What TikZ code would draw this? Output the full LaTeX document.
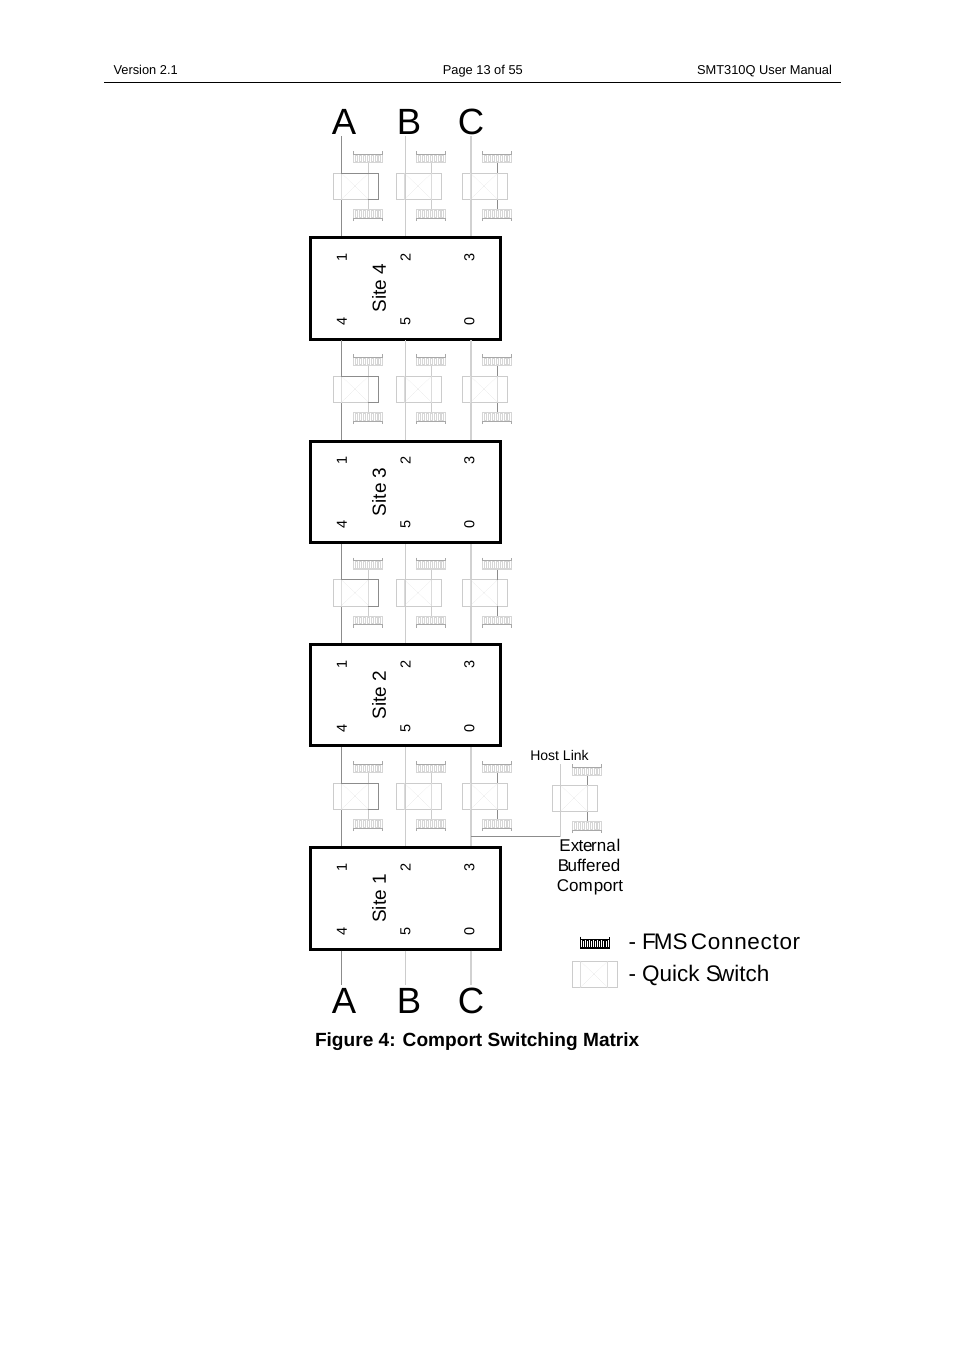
\documentclass[tikz,border=0pt]{standalone}
\usepackage{fontspec}
\setmainfont{Liberation Sans}
\newcommand{\fsz}[1]{\fontsize{#1}{#1}\selectfont}
\definecolor{gA}{gray}{0.55}
\definecolor{gB}{gray}{0.80}
\definecolor{gC}{gray}{0.82}
\definecolor{gS}{gray}{0.80}
\definecolor{gP}{gray}{0.66}
\definecolor{gL}{gray}{0.84}
\tikzset{
  txt/.style={inner sep=0pt,outer sep=0pt,anchor=base,text=black},
  rtxt/.style={inner sep=0pt,outer sep=0pt,anchor=center,text=black,rotate=90},
  sitebox/.style={draw=black,line width=3pt,minimum width=190.5pt,minimum height=101.5pt,inner sep=0pt,outer sep=0pt}
}
\newcommand{\fmsc}[5]{% x, y(centre), vertical flip (1 top / -1 bottom), dark colour, light colour
  \begin{scope}[shift={(#1,#2)},yscale=#3]
    \draw[#5,line width=1pt] (-14.7,-3) -- (-14.7,6) (14.7,-3) -- (14.7,6);
    \draw[#5,line width=1.2pt] (-14.7,5.4) -- (14.7,5.4);
    \foreach \k in {0,...,6}{
      \draw[#5,line width=0.7pt] ({-12.4+\k*3.85},-2) rectangle ({-10.4+\k*3.85},4.5);
    }
    \draw[#4,line width=0.8pt] (-14.7,-6) -- (-14.7,-3) -- (14.7,-3) -- (14.7,-6);
  \end{scope}
}
\newcommand{\qswitch}[3]{% left x, top y, colour
  \begin{scope}[shift={(#1,#2)}]
    \draw[#3,line width=0.6pt] (0,0) rectangle (45,26.5);
    \draw[#3!70!white,line width=0.4pt,densely dotted] (8,0) -- (36,26.5) (36,0) -- (8,26.5);
    \draw[#3!70!white,line width=0.4pt] (8,0) -- (8,26.5) (35.5,0) -- (35.5,26.5);
  \end{scope}
}
\newcommand{\qunit}[3]{% box left x, row offset, stem colour
  \qswitch{#1}{173+#2}{gS}
  \fmsc{#1+35}{157+#2}{1}{gP}{gL}
  \fmsc{#1+35}{215+#2}{-1}{gP}{gL}
  \draw[#3,line width=0.7pt] (#1+35,163+#2) -- (#1+35,173+#2) (#1+35,199.5+#2) -- (#1+35,209+#2);
}
\begin{document}
\begin{tikzpicture}[x=1pt,y=-1pt]
\useasboundingbox (0,0) rectangle (954,1350);
\fill[white] (0,0) rectangle (954,1350);
% header
\node[txt,anchor=base west] (hv) at (113.5,74) {\fsz{12.85}Version 2.1};
\node[txt] (hp) at (482.8,74) {\fsz{12.85}Page 13 of 55};
\node[txt,anchor=base east] (hm) at (832,74) {\fsz{12.85}SMT310Q User Manual};
\coordinate (rl) at (104,82.5); \coordinate (rr) at (841,82.5);
\draw[black,line width=0.8pt] (rl) -- (rr);
% titles
\node[txt] (ta) at (344,134) {\fsz{36.5}A};
\node[txt] (tb) at (409,134) {\fsz{36.5}B};
\node[txt] (tc) at (471,134) {\fsz{36.5}C};
\node[txt] (ba) at (344,1013) {\fsz{36.5}A};
\node[txt] (bb) at (409,1013) {\fsz{36.5}B};
\node[txt] (bc) at (471,1013) {\fsz{36.5}C};
% site boxes
\foreach \n/\t/\b in {4/237.5/339,3/441/542.5,2/644.5/745.5,1/848/949}{
  \node[sitebox] (s\n) at (405.7,{(\t+\b)/2}) {};
  \node[rtxt] (st\n) at (379,{(\t+\b)/2}) {\fsz{19}Site \n};
  \foreach \lbl/\px/\py in {1/342/19.5,2/405.5/19.5,3/469.5/19.5,4/342/83.5,5/405.5/83.5,0/469.5/83.5}{
    \node[rtxt] (n\n\lbl) at (\px,\t+\py) {\fsz{14.5}\lbl};
  }
}
% free bus ends
\coordinate (at) at (341,136); \coordinate (bt) at (405,136); \coordinate (ct) at (471,136);
\coordinate (ab) at (341,985); \coordinate (bbe) at (405,985); \coordinate (cb) at (471,985);
% buses
\foreach \x/\c/\w in {341/gA/0.8,405/gB/0.8,471/gC/1.2}{
  \draw[\c,line width=\w pt] (\x,136) -- (\x,236);
  \draw[\c,line width=\w pt] (\x,340) -- (\x,440);
  \draw[\c,line width=\w pt] (\x,544) -- (\x,643);
  \draw[\c,line width=\w pt] (\x,747) -- (\x,846);
  \draw[\c,line width=\w pt] (\x,950.5) -- (\x,985);
}
% quick-switch units
\foreach \o in {0,203,406.5,610}{
  \qunit{333}{\o}{gS}
  \qunit{396}{\o}{gS}
  \qunit{462}{\o}{gA}
}
% darker edges of the A switches, as in the reference
\foreach \o in {0,203,406.5,610}{
  \draw[gA,line width=0.6pt] (341,173+\o) -- (378,173+\o) -- (378,199.5+\o) -- (368,199.5+\o);
}
% host link unit
\qswitch{552}{785}{gS}
\fmsc{587}{770}{1}{gP}{gL}
\fmsc{587}{827}{-1}{gP}{gL}
\draw[gA,line width=0.7pt] (587,776) -- (587,785) (587,811.5) -- (587,821);
\coordinate (hl) at (560.5,764);
\coordinate (hc) at (560.5,836.5);
\coordinate (hj) at (471,836.5);
\draw[gA,line width=0.7pt] (hj) -- (hc);
\draw[gB,line width=0.7pt] (hc) -- (hl);
\node[txt] (host) at (559.5,760) {\fsz{14}Host Link};
\node[txt] (e1) at (590,851.5) {\fsz{17}Ex\kern-0.8pt te\kern-1.5pt rna\kern1pt l};
\node[txt] (e2) at (589,871.5) {\fsz{17}B\kern-1.5pt uffered};
\node[txt] (e3) at (590,891) {\fsz{17}Com\kern1pt port};
% legend
\fmsc{595}{942.5}{1}{black}{black}
\qswitch{572}{961}{gS}
\node[txt,anchor=base west] (l1) at (628.5,949) {\fsz{22.5}- F\kern-2pt MS\kern-3pt\ {\addfontfeature{LetterSpace=3}Connector}};
\node[txt,anchor=base west] (l2) at (628.5,981) {\fsz{22.5}- Quick S\kern-3pt witch};
% caption
\node[txt,anchor=base west] (cap) at (315,1046.5) {\fsz{19.1}\bfseries Figure 4: Comport Switching Matrix};
\end{tikzpicture}
\end{document}
